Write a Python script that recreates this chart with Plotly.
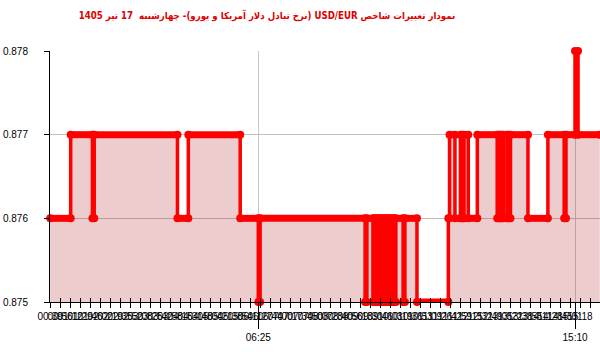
import numpy as np
import plotly.graph_objects as go

title_text = "نمودار تغییرات شاخص USD/EUR (نرخ تبادل دلار آمریکا و یورو)- چهارشنبه  17 تیر 1405"

change_times = ["00:40", "01:14", "01:50", "01:53", "04:11", "04:29", "05:55",
                "06:25", "06:28", "09:22", "09:25",
                "09:35", "09:38", "09:41", "09:44", "09:47", "09:50", "09:53",
                "09:56", "09:59", "10:02", "10:05", "10:08", "10:10", "10:13",
                "10:25", "10:28", "10:48", "11:40", "11:42", "11:51", "12:00",
                "12:03", "12:06", "12:13", "12:28", "13:01", "13:03", "13:05",
                "13:08", "13:11", "13:17", "13:20", "13:23", "13:52", "14:25",
                "14:52", "14:55", "15:10", "15:15", "15:51"]
change_vals = [0.876, 0.877, 0.876, 0.877, 0.876, 0.877, 0.876,
               0.875, 0.876, 0.875, 0.876,
               0.875, 0.876, 0.875, 0.876, 0.875, 0.876, 0.875,
               0.876, 0.875, 0.876, 0.875, 0.876, 0.875, 0.876,
               0.875, 0.876, 0.875, 0.876, 0.877, 0.876, 0.877,
               0.876, 0.877, 0.876, 0.877, 0.876, 0.877, 0.876,
               0.877, 0.876, 0.877, 0.876, 0.877, 0.876, 0.877,
               0.876, 0.877, 0.878, 0.877, 0.877]

y_ticks = [0.875, 0.876, 0.877, 0.878]
y_tick_labels = ["0.875", "0.876", "0.877", "0.878"]
major_time_labels = ["06:25", "15:10"]


def to_min(s):
    h, m = s.split(":")
    return int(h) * 60 + int(m)


x = [to_min(t) for t in change_times]
major_vals = [to_min(t) for t in major_time_labels]

x_range = [39.7, 951.4]
step = (x_range[1] - x_range[0]) / 55.0
dense_vals = [x_range[0] + k * step for k in range(56)]
dense_text = ["%02d:%02d" % (int(v) // 60, int(v) % 60) for v in dense_vals]

# horizontal runs (thick) built from change points
run_x, run_y = [], []
for i in range(len(x) - 1):
    run_x += [x[i], x[i + 1], None]
    run_y += [change_vals[i], change_vals[i], None]

fig = go.Figure()
fig.add_trace(go.Scatter(
    x=x, y=change_vals, mode="lines",
    line=dict(shape="hv", color="#ff0000", width=3.5),
    fill="tozeroy", fillcolor="rgba(160,0,0,0.2)",
    hoverinfo="skip", showlegend=False, cliponaxis=False))
fig.add_trace(go.Scatter(
    x=run_x, y=run_y, mode="lines+markers",
    line=dict(color="#ff0000", width=7),
    marker=dict(color="#ff0000", size=8),
    showlegend=False, cliponaxis=False))

font = dict(family="Liberation Sans", size=10, color="black")
fig.update_layout(
    width=600, height=352,
    margin=dict(l=50, r=0, t=51, b=50, pad=0),
    paper_bgcolor="white", plot_bgcolor="white",
    showlegend=False,
    title=dict(text="\u202b" + title_text + "\u202c", x=0.445, xref="container",
               xanchor="center", y=0.955, yref="container", yanchor="middle",
               font=dict(family="DejaVu Sans Condensed, DejaVu Sans", size=9.6,
                         color="#e00000", weight="bold")),
    xaxis=dict(range=x_range, tickvals=major_vals, ticktext=major_time_labels,
               ticks="outside", ticklen=26, tickcolor="black", tickwidth=1,
               showgrid=True, gridcolor="#c8c8c8", gridwidth=1,
               showline=True, linecolor="black", linewidth=1,
               zeroline=False, tickfont=font, tickangle=0),
    xaxis2=dict(range=x_range, overlaying="x", side="bottom", anchor="y",
                tickvals=dense_vals, ticktext=dense_text, ticks="outside",
                ticklen=5, tickcolor="black", showgrid=False, showline=False,
                zeroline=False, tickfont=font, tickangle=0),
    xaxis3=dict(range=x_range, overlaying="x", side="bottom", anchor="y",
                tickvals=dense_vals, ticks="inside", ticklen=4,
                tickcolor="black", showticklabels=False, showgrid=False,
                showline=False, zeroline=False),
    yaxis=dict(range=[0.875, 0.878], tickvals=y_ticks, ticktext=y_tick_labels,
               ticks="outside", ticklen=5, tickcolor="black",
               showgrid=True, gridcolor="#c0c0c0", gridwidth=1,
               showline=True, linecolor="black", linewidth=1,
               zeroline=False, tickfont=font, ticklabelstandoff=14),
)
# invisible traces so overlay axes render
fig.add_trace(go.Scatter(x=[x_range[0]], y=[0.875], xaxis="x2", mode="markers",
                         marker=dict(opacity=0), hoverinfo="skip", showlegend=False))
fig.add_trace(go.Scatter(x=[x_range[0]], y=[0.875], xaxis="x3", mode="markers",
                         marker=dict(opacity=0), hoverinfo="skip", showlegend=False))

fig.write_html("out.html")
